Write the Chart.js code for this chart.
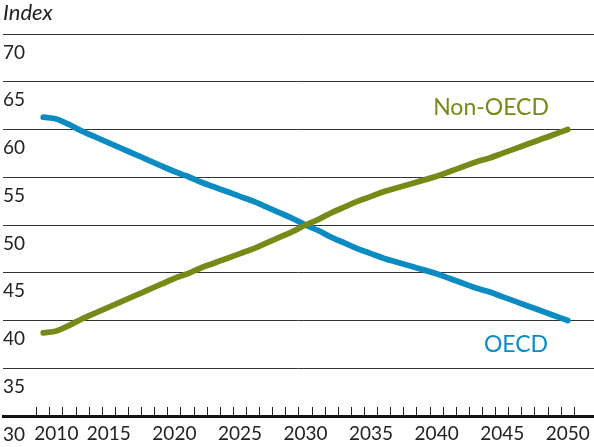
<!DOCTYPE html>
<html>
<head>
<meta charset="utf-8">
<script src="https://cdn.jsdelivr.net/npm/chart.js@4.4.1/dist/chart.umd.min.js"></script>
<style>
  html, body { margin: 0; padding: 0; background: #fff; }
  #wrap { width: 594px; height: 447px; }
</style>
</head>
<body>
<div id="wrap"><canvas id="chart" width="594" height="447"></canvas></div>
<script>
  'use strict';

  var years = [2010, 2011, 2012, 2013, 2014, 2015, 2016, 2017, 2018, 2019,
               2020, 2021, 2022, 2023, 2024, 2025, 2026, 2027, 2028, 2029,
               2030, 2031, 2032, 2033, 2034, 2035, 2036, 2037, 2038, 2039,
               2040, 2041, 2042, 2043, 2044, 2045, 2046, 2047, 2048, 2049, 2050];

  var oecd = [61.3, 61.1, 60.5, 59.8, 59.2, 58.6, 58.0, 57.4, 56.8, 56.2,
              55.6, 55.1, 54.5, 54.0, 53.5, 53.0, 52.5, 51.9, 51.3, 50.7,
              50.0, 49.4, 48.7, 48.1, 47.5, 47.0, 46.5, 46.1, 45.7, 45.3,
              44.9, 44.4, 43.9, 43.4, 43.0, 42.5, 42.0, 41.5, 41.0, 40.5, 40.0];

  var nonOecd = [38.7, 38.9, 39.5, 40.2, 40.8, 41.4, 42.0, 42.6, 43.2, 43.8,
                 44.4, 44.9, 45.5, 46.0, 46.5, 47.0, 47.5, 48.1, 48.7, 49.3,
                 50.0, 50.6, 51.3, 51.9, 52.5, 53.0, 53.5, 53.9, 54.3, 54.7,
                 55.1, 55.6, 56.1, 56.6, 57.0, 57.5, 58.0, 58.5, 59.0, 59.5, 60.0];

  var xLabelYears = [2010, 2015, 2020, 2025, 2030, 2035, 2040, 2045, 2050];
  var yTicks = [30, 35, 40, 45, 50, 55, 60, 65, 70];

  var colors = {
    oecd    : "#0a8bc2",
    nonOecd : "#768a18",
    text    : "#222",
    grid    : "#333",
    axis    : "#111"
  }

  var fontFamily = "Lato, 'Open Sans', sans-serif"

  function toPoints(values) {
    return years.map(function(yr, i) { return { x: yr, y: values[i] }; });
  }

  // "Non-OECD" / "OECD" text next to the lines
  var seriesLabels = {
    id: 'seriesLabels',
    afterDatasetsDraw: function(chart) {
      var ctx = chart.ctx;
      var x = chart.scales.x, y = chart.scales.y;
      ctx.save();
      ctx.font = "23px " + fontFamily;
      ctx.textAlign = 'center';
      ctx.textBaseline = 'middle';
      ctx.fillStyle = colors.nonOecd;
      ctx.fillText('Non-OECD', x.getPixelForValue(2044.15), y.getPixelForValue(62.25));
      ctx.fillStyle = colors.oecd;
      ctx.fillText('OECD', x.getPixelForValue(2046.05), y.getPixelForValue(37.5));
      ctx.restore();
    }
  };

  new Chart(document.getElementById('chart'), {
    type: 'line',
    data: {
      datasets: [
        {
          label: 'Non-OECD',
          data: toPoints(nonOecd),
          borderColor: colors.nonOecd,
          borderWidth: 5.8,
          borderCapStyle: 'round',
          pointRadius: 0,
          cubicInterpolationMode: 'monotone',
          fill: false
        },
        {
          label: 'OECD',
          data: toPoints(oecd),
          borderColor: colors.oecd,
          borderWidth: 5.8,
          borderCapStyle: 'round',
          pointRadius: 0,
          cubicInterpolationMode: 'monotone',
          fill: false
        }
      ]
    },
    options: {
      responsive: false,
      animation: false,
      devicePixelRatio: 1,
      layout: { padding: { left: 3, right: 0, top: 0, bottom: 0 } },
      plugins: {
        legend: { display: false },
        tooltip: { enabled: false },
        title: {
          display: true,
          text: 'Index',
          align: 'start',
          color: colors.text,
          font: { family: fontFamily, size: 22, style: 'italic', weight: 'normal', lineHeight: 1.2 },
          padding: { top: 0, bottom: 7.6 }
        }
      },
      scales: {
        x: {
          type: 'linear',
          min: 2006.93,
          max: 2052.0,
          afterBuildTicks: function(axis) {
            // minor marks sit between the years
            var t = years.map(function(yr) { return { value: yr - 0.5 }; });
            t.push({ value: years[years.length - 1] + 0.5 });
            axis.ticks = t;
          },
          afterFit: function(axis) { axis.height = 31; },
          border: { display: true, color: colors.axis, width: 3 },
          grid: {
            display: true,
            drawOnChartArea: false,
            drawTicks: true,
            tickLength: -9,
            tickColor: colors.text,
            tickWidth: 1
          },
          ticks: {
            autoSkip: false,
            maxRotation: 0,
            minRotation: 0,
            labelOffset: 6.55,
            padding: 15,
            color: colors.text,
            font: { family: fontFamily, size: 19 },
            callback: function(value) {
              var yr = value + 0.5;
              if (yr === 2011) return '2010';   // pushed right, clear of the "30"
              if (yr !== 2010 && xLabelYears.indexOf(yr) >= 0) return String(yr);
              return '';
            }
          }
        },
        y: {
          min: 30,
          max: 70,
          afterBuildTicks: function(axis) {
            axis.ticks = yTicks.map(function(v) { return { value: v }; });
          },
          afterFit: function(axis) { axis.width = 0; },
          border: { display: false },
          grid: {
            drawTicks: false,
            lineWidth: 1,
            color: function(c) { return c.tick && c.tick.value === 30 ? 'rgba(0,0,0,0)' : colors.grid; }
          },
          ticks: {
            mirror: true,
            padding: 0,
            labelOffset: 18.5,
            color: colors.text,
            font: { family: fontFamily, size: 19 },
            callback: function(value) { return String(value); }
          }
        }
      }
    },
    plugins: [seriesLabels]
  });
</script>
</body>
</html>
